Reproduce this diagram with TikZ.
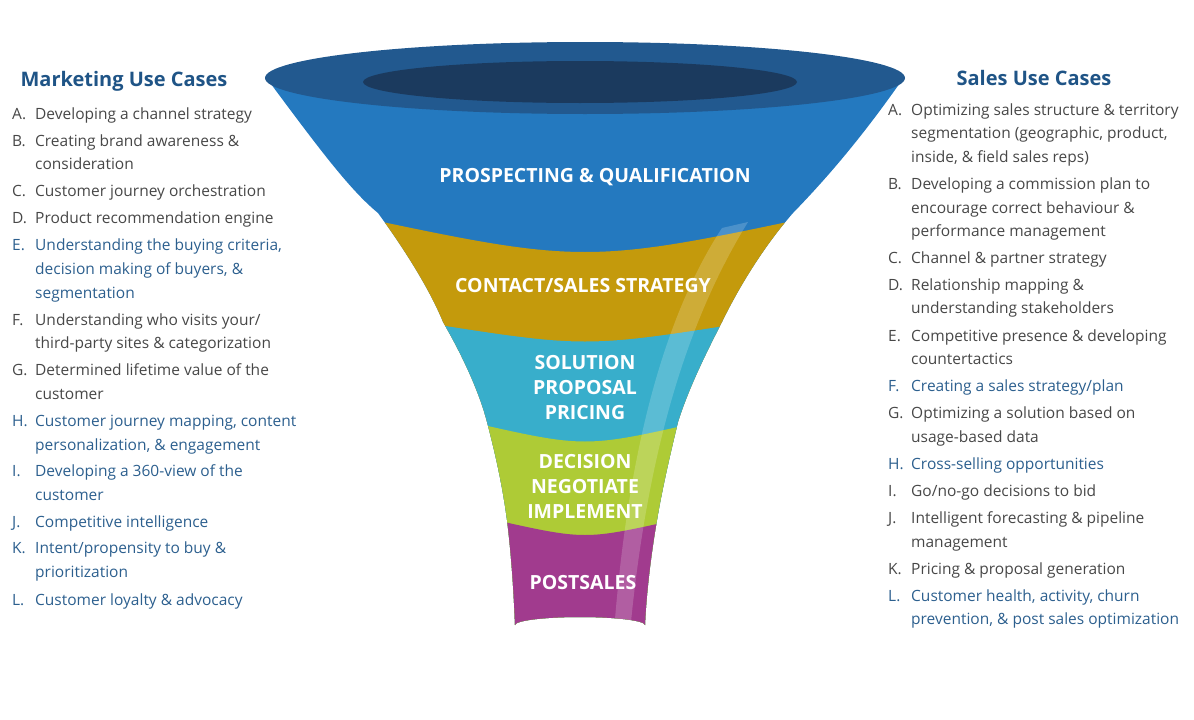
\documentclass[tikz,border=0pt]{standalone}
\usepackage{fontspec}
\setmainfont{Open Sans}
\begin{document}
\begin{tikzpicture}[x=1pt,y=-1pt,
  txt/.style={anchor=base west,inner sep=0pt,font=\fontsize{15.5}{18}\selectfont},
  gry/.style={txt,text=black!72},
  blu/.style={txt,text=blue!40!black!60!cyan!70!black},
  head/.style={anchor=base,inner sep=0pt,font=\fontsize{20}{24}\selectfont\bfseries,text=hd},
  lab/.style={align=center,inner sep=0pt,text=white,font=\fontsize{19.5}{25}\selectfont\bfseries}]
\definecolor{hd}{HTML}{1F5486}
\definecolor{bl}{HTML}{2C5F8E}
\definecolor{fblue}{HTML}{2479BF}
\definecolor{fgold}{HTML}{C49A0C}
\definecolor{fcyan}{HTML}{38AECB}
\definecolor{fgreen}{HTML}{AECB36}
\definecolor{fpurp}{HTML}{A13B8E}
\definecolor{rim}{HTML}{22598F}
\definecolor{hole}{HTML}{1B3A5E}
\tikzset{blu/.style={txt,text=bl}}
\useasboundingbox (0,0) rectangle (1194,720);
% funnel
\def\funnel{(268,80) .. controls (320,150) and (350,190) .. (378,213)
  .. controls (405,250) and (430,290) .. (443,322)
  .. controls (465,360) and (480,395) .. (487,422)
  .. controls (497,460) and (503,490) .. (507,520)
  .. controls (512,560) and (514,600) .. (515,625)
  arc[start angle=180,end angle=360,x radius=65,y radius=8]
  .. controls (646,600) and (650,560) .. (657,520)
  .. controls (662,490) and (670,455) .. (678,422)
  .. controls (688,390) and (705,355) .. (722,322)
  .. controls (740,285) and (765,245) .. (793,213)
  .. controls (825,180) and (860,140) .. (902,80) -- cycle}
\begin{scope}
\clip \funnel;
\fill[fblue] (200,0) rectangle (1000,720);
\fill[fgold] (340,213) .. controls (585,265) .. (830,213) -- (1000,213) -- (1000,720) -- (200,720) -- (200,213) -- cycle;
\fill[fcyan] (420,322) .. controls (585,348) .. (750,322) -- (1000,322) -- (1000,720) -- (200,720) -- (200,322) -- cycle;
\fill[fgreen] (470,422) .. controls (585,448) .. (700,422) -- (1000,422) -- (1000,720) -- (200,720) -- (200,422) -- cycle;
\fill[fpurp] (495,520) .. controls (585,540) .. (675,520) -- (1000,520) -- (1000,720) -- (200,720) -- (200,520) -- cycle;
\fill[white,opacity=0.18] (748,222) .. controls (700,300) and (650,420) .. (630,632) -- (614,632) .. controls (630,420) and (675,300) .. (722,228) -- cycle;
\end{scope}
\fill[rim] (585,78) ellipse[x radius=320,y radius=36];
\fill[hole] (580,82) ellipse[x radius=217,y radius=21];
% labels
\node[lab] (l1) at (595,177) {PROSPECTING \& QUALIFICATION};
\node[lab] (l2) at (583,286) {CONTACT/SALES STRATEGY};
\node[lab] (l3) at (585,388) {SOLUTION\\PROPOSAL\\PRICING};
\node[lab] (l4) at (585,486) {DECISION\\NEGOTIATE\\IMPLEMENT};
\node[lab] (l5) at (583,583) {POSTSALES};
% headings
\node[head] (mh) at (124,86) {Marketing Use Cases};
\node[head] (sh) at (1034,85) {Sales Use Cases};
% left list
\newcommand\tli[5]{\node[#1] (#2) at (#3,#4) {#5};}
\def\L{12}\def\T{35}
\tli{gry}{mA}{\L}{119}{A.} \tli{gry}{mA1}{\T}{119}{Developing a channel strategy}
\tli{gry}{mB}{\L}{146}{B.} \tli{gry}{mB1}{\T}{146}{Creating brand awareness \&}
\tli{gry}{mB2}{\T}{169}{consideration}
\tli{gry}{mC}{\L}{196}{C.} \tli{gry}{mC1}{\T}{196}{Customer journey orchestration}
\tli{gry}{mD}{\L}{223}{D.} \tli{gry}{mD1}{\T}{223}{Product recommendation engine}
\tli{blu}{mE}{\L}{250}{E.} \tli{blu}{mE1}{\T}{250}{Understanding the buying criteria,}
\tli{blu}{mE2}{\T}{274}{decision making of buyers, \&}
\tli{blu}{mE3}{\T}{298}{segmentation}
\tli{gry}{mF}{\L}{325}{F.} \tli{gry}{mF1}{\T}{325}{Understanding who visits your/}
\tli{gry}{mF2}{\T}{348}{third-party sites \& categorization}
\tli{gry}{mG}{\L}{375}{G.} \tli{gry}{mG1}{\T}{375}{Determined lifetime value of the}
\tli{gry}{mG2}{\T}{399}{customer}
\tli{blu}{mH}{\L}{426}{H.} \tli{blu}{mH1}{\T}{426}{Customer journey mapping, content}
\tli{blu}{mH2}{\T}{450}{personalization, \& engagement}
\tli{blu}{mI}{\L}{476}{I.} \tli{blu}{mI1}{\T}{476}{Developing a 360-view of the}
\tli{blu}{mI2}{\T}{500}{customer}
\tli{blu}{mJ}{\L}{527}{J.} \tli{blu}{mJ1}{\T}{527}{Competitive intelligence}
\tli{blu}{mK}{\L}{553}{K.} \tli{blu}{mK1}{\T}{553}{Intent/propensity to buy \&}
\tli{blu}{mK2}{\T}{577}{prioritization}
\tli{blu}{mL}{\L}{605}{L.} \tli{blu}{mL1}{\T}{605}{Customer loyalty \& advocacy}
% right list
\def\L{888}\def\T{911}
\tli{gry}{sA}{\L}{115}{A.} \tli{gry}{sA1}{\T}{115}{Optimizing sales structure \& territory}
\tli{gry}{sA2}{\T}{138}{segmentation (geographic, product,}
\tli{gry}{sA3}{\T}{162}{inside, \& field sales reps)}
\tli{gry}{sB}{\L}{189}{B.} \tli{gry}{sB1}{\T}{189}{Developing a commission plan to}
\tli{gry}{sB2}{\T}{213}{encourage correct behaviour \&}
\tli{gry}{sB3}{\T}{236}{performance management}
\tli{gry}{sC}{\L}{263}{C.} \tli{gry}{sC1}{\T}{263}{Channel \& partner strategy}
\tli{gry}{sD}{\L}{290}{D.} \tli{gry}{sD1}{\T}{290}{Relationship mapping \&}
\tli{gry}{sD2}{\T}{313}{understanding stakeholders}
\tli{gry}{sE}{\L}{341}{E.} \tli{gry}{sE1}{\T}{341}{Competitive presence \& developing}
\tli{gry}{sE2}{\T}{364}{countertactics}
\tli{blu}{sF}{\L}{391}{F.} \tli{blu}{sF1}{\T}{391}{Creating a sales strategy/plan}
\tli{gry}{sG}{\L}{418}{G.} \tli{gry}{sG1}{\T}{418}{Optimizing a solution based on}
\tli{gry}{sG2}{\T}{442}{usage-based data}
\tli{blu}{sH}{\L}{469}{H.} \tli{blu}{sH1}{\T}{469}{Cross-selling opportunities}
\tli{gry}{sI}{\L}{496}{I.} \tli{gry}{sI1}{\T}{496}{Go/no-go decisions to bid}
\tli{gry}{sJ}{\L}{523}{J.} \tli{gry}{sJ1}{\T}{523}{Intelligent forecasting \& pipeline}
\tli{gry}{sJ2}{\T}{547}{management}
\tli{gry}{sK}{\L}{574}{K.} \tli{gry}{sK1}{\T}{574}{Pricing \& proposal generation}
\tli{blu}{sL}{\L}{601}{L.} \tli{blu}{sL1}{\T}{601}{Customer health, activity, churn}
\tli{blu}{sL2}{\T}{624}{prevention, \& post sales optimization}
\end{tikzpicture}
\end{document}
